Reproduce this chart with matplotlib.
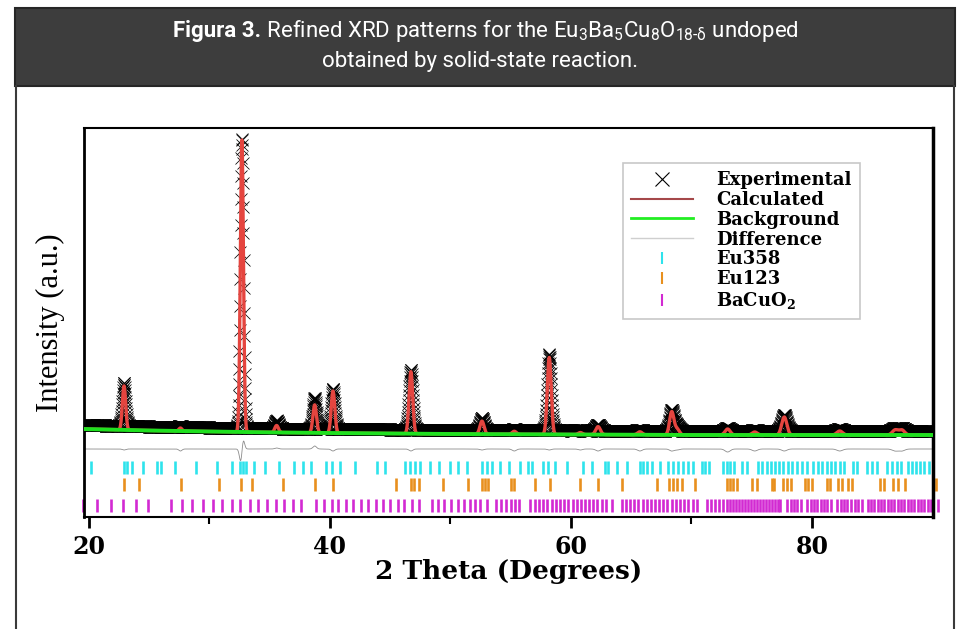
import matplotlib
matplotlib.use("Agg")
import matplotlib.pyplot as plt
from matplotlib.lines import Line2D
from matplotlib.patches import Rectangle
from matplotlib.font_manager import FontProperties
import numpy as np

# peaks: 2theta (deg), height above background, fwhm (deg)
peak_pos = [22.92, 27.60, 32.70, 35.58, 38.74, 40.26, 46.72, 52.62, 55.30, 58.20, 60.78,
            62.25, 65.72, 68.36, 68.80, 73.00, 75.25, 77.70, 82.30, 86.90, 87.45]
calc_h = [44, 3, 292, 7, 28, 42, 62, 13, 3, 77, 2, 8, 3, 23, 6, 6, 3, 18, 4, 5, 5]
obs_pos = [22.92, 27.60, 32.707, 35.58, 38.74, 40.26, 46.72, 52.62, 55.30, 58.20, 60.78,
           62.25, 65.72, 68.36, 68.80, 73.00, 75.25, 77.70, 82.30, 86.90, 87.45]
obs_h = [43, 1, 289, 8, 31, 40, 60, 12, 1, 76, 1, 6, 1, 21, 5, 3, 1, 16, 2, 3, 3]
fwhm = [0.32, 0.30, 0.30, 0.35, 0.35, 0.35, 0.36, 0.40, 0.40, 0.38, 0.40,
        0.45, 0.45, 0.42, 0.45, 0.50, 0.50, 0.50, 0.55, 0.55, 0.55]

# background (green line)
bg_x = [19.6, 25, 30, 35, 40, 50, 60, 70, 80, 90.1]
bg_y = [88, 86.5, 85.5, 84.6, 84, 83, 82.5, 82, 82, 82]
obs_offset = 4
diff_level = 64

# reflection positions for the three phases
eu358_ticks = [20.14, 22.90, 23.13, 23.62, 24.51, 25.67, 25.95, 27.14, 28.88, 30.65, 31.84,
               32.53, 32.81, 33.08, 33.69, 34.63, 35.77, 37.04, 37.79, 38.42, 39.64, 40.19,
               40.83, 42.07, 43.87, 44.56, 46.22, 46.64, 47.05, 47.47, 48.30, 49.05, 49.96,
               50.65, 51.34, 52.64, 53.00, 53.42, 54.11, 54.85, 55.77, 56.46, 56.74, 57.70,
               58.12, 58.67, 59.64, 61.02, 61.72, 62.82, 63.10, 63.79, 64.68, 65.73, 66.00,
               66.28, 66.70, 67.39, 68.08, 68.49, 68.91, 69.32, 69.74, 70.15, 70.84, 71.12,
               71.48, 72.64, 72.95, 73.19, 73.55, 74.16, 74.58, 75.55, 75.88, 76.24, 76.60,
               76.93, 77.26, 77.62, 77.98, 78.31, 78.73, 79.14, 79.56, 80.11, 80.47, 80.80,
               81.21, 81.57, 81.90, 82.32, 82.68, 83.43, 83.71, 84.54, 84.95, 85.37, 86.20,
               86.61, 87.03, 87.39, 87.94, 88.27, 88.60, 88.96, 89.32, 89.71]
eu123_ticks = [22.90, 24.18, 27.64, 30.82, 32.61, 33.50, 36.12, 38.76, 40.28, 45.45, 46.72,
               46.95, 47.39, 49.41, 51.48, 52.64, 52.86, 53.08, 55.05, 55.30, 57.01, 58.26,
               60.75, 62.27, 64.20, 67.16, 68.16, 68.49, 68.82, 69.18, 70.29, 72.92, 73.20,
               73.45, 73.75, 74.99, 75.41, 76.65, 76.87, 77.62, 77.90, 78.26, 79.42, 79.70,
               79.97, 81.21, 81.49, 82.18, 82.52, 83.02, 83.35, 85.64, 86.00, 86.75, 87.11,
               87.72, 90.26]
bacuo2_ticks = [19.53, 20.69, 21.83, 22.85, 23.90, 24.92, 26.78, 27.69, 28.58, 29.49, 30.32,
                31.09, 31.84, 32.53, 33.36, 34.05, 34.80, 35.49, 36.18, 36.96, 37.59, 38.89,
                39.53, 40.14, 40.69, 41.30, 41.94, 42.57, 43.18, 43.79, 44.43, 44.98, 45.62,
                46.17, 46.78, 47.39, 48.49, 48.99, 49.49, 50.04, 50.59, 51.15, 51.62, 52.03,
                52.45, 53.00, 53.75, 54.19, 54.58, 55.02, 55.35, 55.71, 56.60, 57.01, 57.37,
                57.70, 58.03, 58.40, 58.76, 59.09, 59.42, 59.78, 60.14, 60.47, 60.80, 61.16,
                61.52, 61.85, 62.18, 62.54, 62.95, 63.37, 64.20, 64.56, 64.89, 65.22, 65.58,
                65.94, 66.28, 66.61, 66.97, 67.33, 67.66, 67.99, 68.35, 68.71, 69.04, 69.37,
                69.74, 70.10, 70.43, 71.26, 71.62, 71.95, 72.31, 72.64, 72.97, 73.22, 73.47,
                73.72, 73.97, 74.22, 74.47, 74.72, 74.97, 75.22, 75.47, 75.72, 75.97, 76.22,
                76.47, 76.72, 76.97, 77.22, 77.34, 77.95, 78.23, 78.51, 78.78, 79.09, 79.61,
                79.89, 80.17, 80.44, 80.72, 80.99, 81.27, 81.58, 82.10, 82.38, 82.66, 82.93,
                83.24, 83.57, 83.85, 84.12, 84.62, 84.90, 85.17, 85.45, 85.73, 86.00, 86.28,
                86.56, 86.83, 87.11, 87.39, 87.66, 87.94, 88.22, 88.49, 88.77, 89.05, 89.32,
                89.60, 89.88, 90.48]

phase_labels = ["Eu358", "Eu123", "BaCuO$_\\mathbf{2}$"]
phase_colors = ["#2ee3ec", "#e8901e", "#d22ad2"]
phase_rows = [(43, 56), (26, 39), (5, 18)]


def profile(x, pos, h, w):
    y = np.zeros_like(x)
    for p, a, f in zip(pos, h, w):
        y += a * np.exp(-4 * np.log(2) * (x - p) ** 2 / f ** 2)
    return y


def fx(px):
    return px / 961


def fy(py):
    return 1 - py / 629


def main():
    plt.rcParams['mathtext.fontset'] = 'custom'
    plt.rcParams['mathtext.rm'] = 'Roboto'
    plt.rcParams['mathtext.it'] = 'Roboto:italic'
    plt.rcParams['mathtext.bf'] = 'Roboto:bold'

    fig = plt.figure(figsize=(9.61, 6.29), dpi=100)

    # title banner and page frame
    fig.patches.append(Rectangle((fx(15), fy(86)), fx(955) - fx(15), fy(8) - fy(86),
                                 transform=fig.transFigure, fc='#3d3d3d', ec='#262626', lw=1.5))
    for xp in (16, 954):
        fig.add_artist(Line2D([fx(xp), fx(xp)], [fy(86), 0], transform=fig.transFigure,
                              color='#3a3a3a', lw=1.5))

    t1 = fig.text(0, fy(37), "Figura 3.", color='white', fontsize=16, family='Roboto',
                  weight='bold', va='baseline', ha='left')
    t2 = fig.text(0, fy(37), " Refined XRD patterns for the "
                  "Eu$_3$Ba$_5$Cu$_8$O$_{18\\text{-δ}}$ undoped",
                  color='white', fontsize=16, family='Roboto', va='baseline', ha='left')
    fig.text(0.5, fy(67), "obtained by solid-state reaction.", color='white', fontsize=16,
             family='Roboto', va='baseline', ha='center')
    fig.canvas.draw()
    r = fig.canvas.get_renderer()
    w1 = t1.get_window_extent(r).width
    w2 = t2.get_window_extent(r).width
    x0 = (961 - w1 - w2) / 2 + 5
    t1.set_x(fx(x0))
    t2.set_x(fx(x0 + w1))

    ax = fig.add_axes([fx(84), fy(517), fx(933) - fx(84), fy(128) - fy(517)])

    x_calc = np.arange(19.6, 90.1, 0.005)
    bg_calc = np.interp(x_calc, bg_x, bg_y)
    calc = bg_calc + profile(x_calc, peak_pos, calc_h, fwhm)

    x_obs = np.arange(19.7, 90.06, 0.02)
    bg_obs = np.interp(x_obs, bg_x, bg_y)
    obs = bg_obs + obs_offset + profile(x_obs, obs_pos, obs_h, fwhm)
    calc_at_obs = bg_obs + profile(x_obs, peak_pos, calc_h, fwhm)
    diff = obs - calc_at_obs

    ax.plot(x_obs, obs, ls='none', marker='x', ms=8.5, mew=0.55, color='k', zorder=2)
    ax.plot(x_calc, calc, color='#e5453f', lw=2.4, zorder=3)
    ax.plot(bg_x, bg_y, color='#1fe01f', lw=2.8, zorder=4)
    ax.plot(x_obs, diff + diff_level, color='#8c8c8c', lw=0.6, zorder=2)

    for ticks, col, (y0, y1) in zip([eu358_ticks, eu123_ticks, bacuo2_ticks],
                                    phase_colors, phase_rows):
        ax.vlines(ticks, y0, y1, color=col, lw=1.9, clip_on=False)

    ax.set_xlim(19.6, 90.04)
    ax.set_ylim(0, 389)
    ax.set_yticks([])
    ax.set_xticks([20, 40, 60, 80])
    ax.set_xticks([30, 50, 70], minor=True)
    ax.tick_params(axis='x', which='major', direction='out', length=8, width=2, pad=5)
    ax.tick_params(axis='x', which='minor', direction='out', length=5, width=1.5)
    for lab in ax.get_xticklabels():
        lab.set_fontfamily('DejaVu Serif')
        lab.set_fontweight('bold')
        lab.set_fontsize(17)
    ax.spines['left'].set_linewidth(2)
    ax.spines['right'].set_linewidth(2.5)
    ax.spines['top'].set_linewidth(1.5)
    ax.spines['bottom'].set_linewidth(1.5)

    ax.set_xlabel("2 Theta (Degrees)", family='DejaVu Serif', weight='bold', fontsize=19,
                  labelpad=0)
    ax.set_ylabel("Intensity (a.u.)", family='Liberation Serif', fontsize=22)
    ax.yaxis.set_label_coords(-0.022, 0.5)

    handles = [
        Line2D([], [], ls='none', marker='x', ms=10, mew=0.8, color='k'),
        Line2D([], [], color='#a5484a', lw=1.5),
        Line2D([], [], color='#22ee22', lw=2),
        Line2D([], [], color='#cfcfcf', lw=1),
    ]
    for col in phase_colors:
        handles.append(Line2D([], [], ls='none', marker='|', ms=9, mew=1.5, color=col))
    labels = ["Experimental", "Calculated", "Background", "Difference"] + phase_labels
    fp = FontProperties(family='DejaVu Serif', weight='bold', size=13,
                        math_fontfamily='dejavuserif')
    leg = ax.legend(handles, labels, loc='upper left', bbox_to_anchor=(0.635, 0.91),
                    prop=fp, fancybox=False, edgecolor='#c8c8c8', framealpha=1,
                    borderaxespad=0, handlelength=3.4, handletextpad=1.3,
                    labelspacing=0.1, borderpad=0.45)
    leg.get_frame().set_linewidth(1.2)

    fig.savefig("out.png", dpi=100)


if __name__ == "__main__":
    main()
